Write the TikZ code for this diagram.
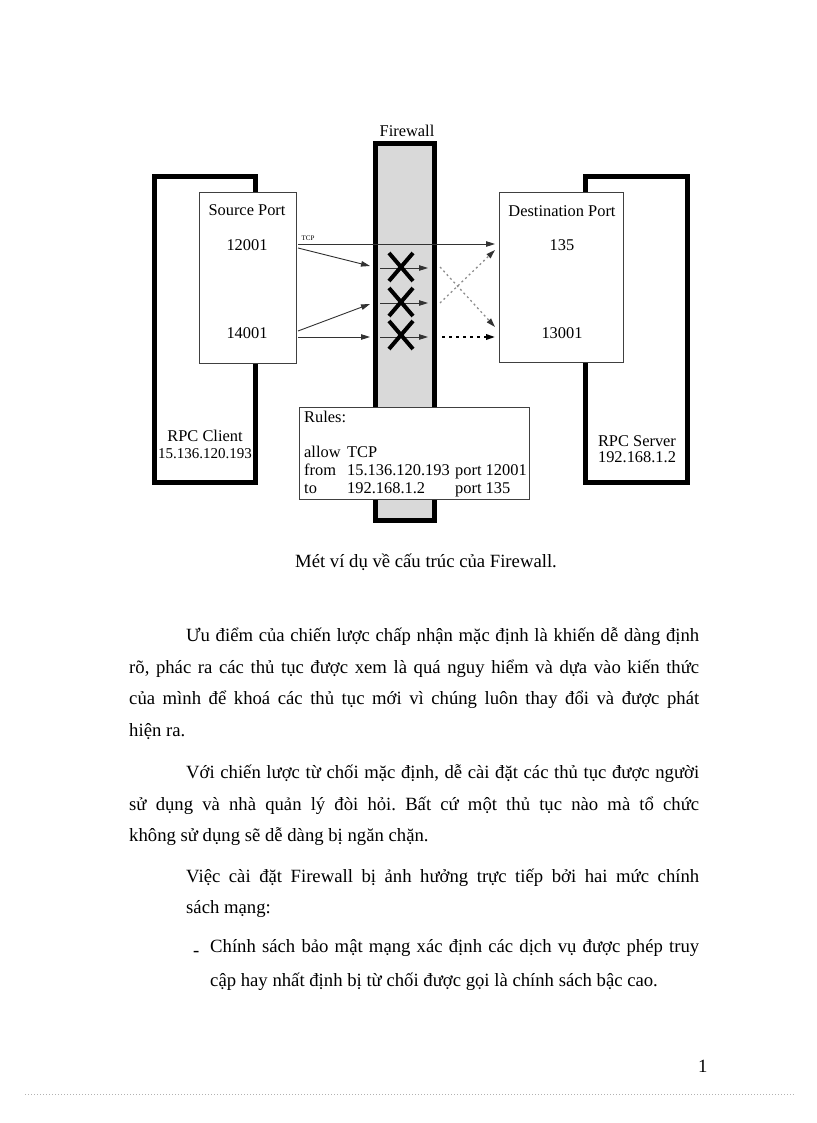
\documentclass[tikz,border=0pt]{standalone}
\usepackage{fontspec}
\setmainfont{Liberation Serif}
\usetikzlibrary{arrows.meta,shapes.misc}
\frenchspacing
\begin{document}
\begin{tikzpicture}[x=1pt,y=-1pt,
  outerbox/.style={draw=black, line width=5pt, inner sep=0pt},
  portbox/.style={draw=black!75, line width=0.9pt, fill=white, inner sep=0pt},
  fwbox/.style={draw=black, line width=5pt, fill=black!15, inner sep=0pt},
  dtext/.style={font=\fontsize{16.4}{18}\selectfont, inner sep=0pt},
  rtext/.style={font=\fontsize{16.4}{18}\selectfont, inner sep=0pt, anchor=base west},
  body/.style={font=\fontsize{18.7}{22}\selectfont\frenchspacing, inner sep=0pt, anchor=base west},
  arr/.style={draw=black!80, line width=0.9pt, -{Triangle[length=9pt,width=5.5pt]}},
  garr/.style={draw=black!45, line width=1.3pt, dash pattern=on 2pt off 3pt, -{Triangle[length=9pt,width=5.5pt,color=black!80,fill=black!80]}},
  karr/.style={draw=black, line width=1.8pt, dash pattern=on 3pt off 4pt, -{Triangle[length=9pt,width=5.5pt]}},
  xmark/.style={draw=black, cross out, line width=4pt, minimum width=20pt, minimum height=24pt, inner sep=0pt}
]
\useasboundingbox (0,0) rectangle (816,1123);

% ---------- diagram ----------
\node[outerbox, minimum width=101, minimum height=306] (client) at (205,329.5) {};
\node[outerbox, minimum width=102.5, minimum height=306] (server) at (636.25,329.5) {};
\node[fwbox, minimum width=59, minimum height=377] (fw) at (405,332) {};
\node[portbox, minimum width=97, minimum height=171] (src) at (247.5,277.5) {};
\node[portbox, minimum width=124, minimum height=170] (dst) at (561,277) {};
\node[portbox, minimum width=230, minimum height=92] (rules) at (414,453) {};

\node[dtext] (fwlabel) at (407,131) {Firewall};
\node[dtext] (srcport) at (247,210) {Source Port};
\node[dtext] (p12001) at (247,245) {12001};
\node[dtext] (p14001) at (247,333) {14001};
\node[dtext] (dstport) at (562,211) {Destination Port};
\node[dtext] (p135) at (562,245) {135};
\node[dtext] (p13001) at (562,333) {13001};
\node[dtext, anchor=base] (rpcc) at (205,441.5) {RPC Client};
\node[dtext, anchor=base, font=\fontsize{15}{17}\selectfont] (rpccip) at (205,458.5) {15.136.120.193};
\node[dtext, anchor=base] (rpcs) at (637,446.5) {RPC Server};
\node[dtext, anchor=base] (rpcsip) at (637,462.5) {192.168.1.2};
\node[inner sep=0pt, font=\fontsize{7}{8}\selectfont] (tcp) at (308,238) {TCP};

\node[rtext] (r1) at (304,422) {Rules:};
\node[rtext] (r2a) at (304,457) {allow};
\node[rtext] (r2b) at (347,457) {TCP};
\node[rtext] (r3a) at (304,475) {from};
\node[rtext] (r3b) at (347,475) {15.136.120.193};
\node[rtext] (r3c) at (455,475) {port 12001};
\node[rtext] (r4a) at (304,493) {to};
\node[rtext] (r4b) at (347,493) {192.168.1.2};
\node[rtext] (r4c) at (455,493) {port 135};

% arrow end points
\coordinate (t0) at (298,244); \coordinate (t1) at (495,244);
\coordinate (a1s) at (298,248); \coordinate (a1e) at (370,266);
\coordinate (a2s) at (298,331); \coordinate (a2e) at (370,304);
\coordinate (a3s) at (298,337); \coordinate (a3e) at (370,337);
\coordinate (i1s) at (380,268); \coordinate (i1e) at (428,268);
\coordinate (i2s) at (380,303); \coordinate (i2e) at (428,303);
\coordinate (i3s) at (380,337); \coordinate (i3e) at (428,337);
\coordinate (g1s) at (440,267); \coordinate (g1e) at (495,327);
\coordinate (g2s) at (440,303); \coordinate (g2e) at (495,250);
\coordinate (k3s) at (442,337); \coordinate (k3e) at (495,337);

\draw[arr] (t0) -- (t1);
\draw[arr] (a1s) -- (a1e);
\draw[arr] (a2s) -- (a2e);
\draw[arr] (a3s) -- (a3e);
\draw[arr] (i1s) -- (i1e);
\draw[arr] (i2s) -- (i2e);
\draw[arr] (i3s) -- (i3e);
\draw[garr] (g1s) -- (g1e);
\draw[garr] (g2s) -- (g2e);
\draw[karr] (k3s) -- (k3e);

\node[xmark] (x1) at (401,267) {};
\node[xmark] (x2) at (401,302) {};
\node[xmark] (x3) at (401,335) {};

% ---------- text ----------
\node[body, anchor=base] (cap) at (426,567) {Mét ví dụ về cấu trúc của Firewall.};

\node[body] (p1a) at (186,641) {\makebox[513pt][s]{Ưu điểm của chiến lược chấp nhận mặc định là khiến dễ dàng định}};
\node[body] (p1b) at (129,673) {\makebox[570pt][s]{rõ, phác ra các thủ tục được xem là quá nguy hiểm và dựa vào kiến thức}};
\node[body] (p1c) at (129,704) {\makebox[570pt][s]{của mình để khoá các thủ tục mới vì chúng luôn thay đổi và được phát}};
\node[body] (p1d) at (129,736) {hiện ra.};

\node[body] (p2a) at (186,778) {\makebox[513pt][s]{Với chiến lược từ chối mặc định, dễ cài đặt các thủ tục được người}};
\node[body] (p2b) at (129,810) {\makebox[570pt][s]{sử dụng và nhà quản lý đòi hỏi. Bất cứ một thủ tục nào mà tổ chức}};
\node[body] (p2c) at (129,841) {không sử dụng sẽ dễ dàng bị ngăn chặn.};

\node[body] (p3a) at (186,882) {\makebox[513pt][s]{Việc cài đặt Firewall bị ảnh hưởng trực tiếp bởi hai mức chính}};
\node[body] (p3b) at (186,913) {sách mạng:};

\node[body] (dash) at (193,952) {\raisebox{-4pt}{-}};
\node[body] (b1a) at (210,952) {\makebox[489pt][s]{Chính sách bảo mật mạng xác định các dịch vụ được phép truy}};
\node[body] (b1b) at (210,986) {cập hay nhất định bị từ chối được gọi là chính sách bậc cao.};

\node[body] (pg) at (698,1072) {1};

\coordinate (dl0) at (25,1094); \coordinate (dl1) at (795,1094);
\draw[black!30, line width=0.6pt, dash pattern=on 1pt off 2pt] (dl0) -- (dl1);
\end{tikzpicture}
\end{document}
